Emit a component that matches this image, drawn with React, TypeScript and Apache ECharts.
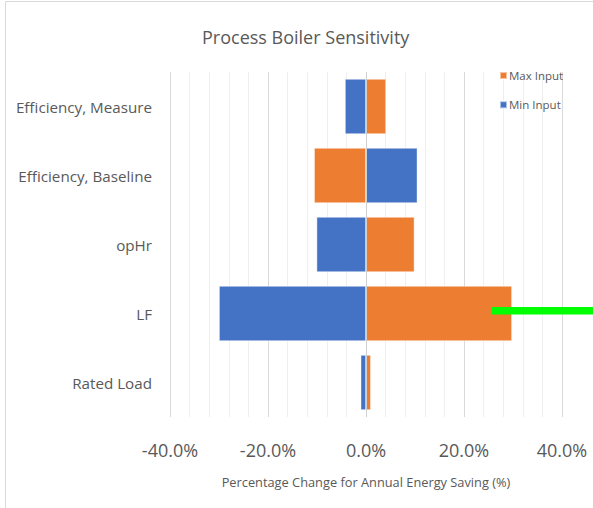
import React, { useEffect, useRef } from "react";
import * as echarts from "echarts";

const categories = [
  "Efficiency, Measure",
  "Efficiency, Baseline",
  "opHr",
  "LF",
  "Rated Load",
];
const maxInput = [4.1, -10.6, 9.9, 29.8, 1.0];
const minInput = [-4.3, 10.5, -10.1, -30.0, -1.1];
const xTicks = { min: -40, max: 40, interval: 20 };

const FONT = "'Open Sans', 'Noto Sans', sans-serif";
const TEXT = "#595959";

export default function App() {
  const ref = useRef<HTMLDivElement>(null);
  useEffect(() => {
    if (!ref.current) return;
    const chart = echarts.init(ref.current, undefined, { renderer: "svg" });
    chart.setOption({
      animation: false,
      backgroundColor: "#ffffff",
      textStyle: { fontFamily: FONT },
      title: {
        text: "Process Boiler Sensitivity",
        left: 202,
        top: 28,
        padding: 0,
        textStyle: { fontFamily: FONT, fontSize: 18, fontWeight: "normal", color: TEXT },
      },
      legend: {
        orient: "vertical",
        left: 499,
        top: 69.5,
        padding: 0,
        itemWidth: 7,
        itemHeight: 7,
        itemGap: 17.3,
        icon: "rect",
        data: ["Max Input", "Min Input"],
        textStyle: { fontFamily: FONT, fontSize: 11.5, color: TEXT, padding: [0, 0, 0, -3] },
      },
      grid: { left: 170, right: 31, top: 72, bottom: 91, containLabel: false },
      xAxis: {
        type: "value",
        min: xTicks.min,
        max: xTicks.max,
        interval: xTicks.interval,
        axisLine: { show: false },
        axisTick: { show: false },
        axisLabel: {
          margin: 23.5,
          fontFamily: FONT,
          fontSize: 18,
          color: TEXT,
          formatter: (v: number) => `${v.toFixed(1)}%`,
        },
        splitLine: { show: true, lineStyle: { color: "#d9d9d9", width: 1 } },
        minorTick: { show: false, splitNumber: 5 },
        minorSplitLine: { show: true, lineStyle: { color: "#efefef", width: 1 } },
        name: "Percentage Change for Annual Energy Saving (%)",
        nameLocation: "middle",
        nameGap: 58,
        nameTextStyle: { fontFamily: FONT, fontSize: 12.8, color: TEXT },
      },
      yAxis: {
        type: "category",
        inverse: true,
        data: categories,
        axisLine: { show: false },
        axisTick: { show: false },
        axisLabel: { margin: 18, fontFamily: FONT, fontSize: 15.2, color: TEXT },
        splitLine: { show: false },
      },
      series: [
        {
          name: "Max Input",
          type: "bar",
          data: maxInput,
          barGap: "-100%",
          barCategoryGap: "20%",
          itemStyle: { color: "#ED7D31", borderColor: "rgba(255,255,255,0.55)", borderWidth: 0.8 },
          markLine: {
            silent: true,
            symbol: "none",
            label: { show: false },
            lineStyle: { color: "#d0d0d0", type: "solid", width: 1 },
            data: [{ xAxis: 0 }],
            z: 10,
          },
        },
        {
          name: "Min Input",
          type: "bar",
          data: minInput,
          barGap: "-100%",
          barCategoryGap: "20%",
          itemStyle: { color: "#4472C4", borderColor: "rgba(255,255,255,0.55)", borderWidth: 0.8 },
        },
      ],
      graphic: [
        {
          type: "rect",
          shape: { x: 5.5, y: 1.5, width: 800, height: 800 },
          style: { fill: "none", stroke: "#d9d9d9", lineWidth: 1 },
          silent: true,
        },
        {
          type: "rect",
          shape: { x: 491, y: 307, width: 110, height: 7.5 },
          style: { fill: "#00ff00" },
          z: 100,
          silent: true,
        },
      ],
    });
    return () => chart.dispose();
  }, []);
  return (
    <div
      ref={ref}
      style={{ position: "fixed", left: 0, top: 0, width: 593, height: 508 }}
    />
  );
}
